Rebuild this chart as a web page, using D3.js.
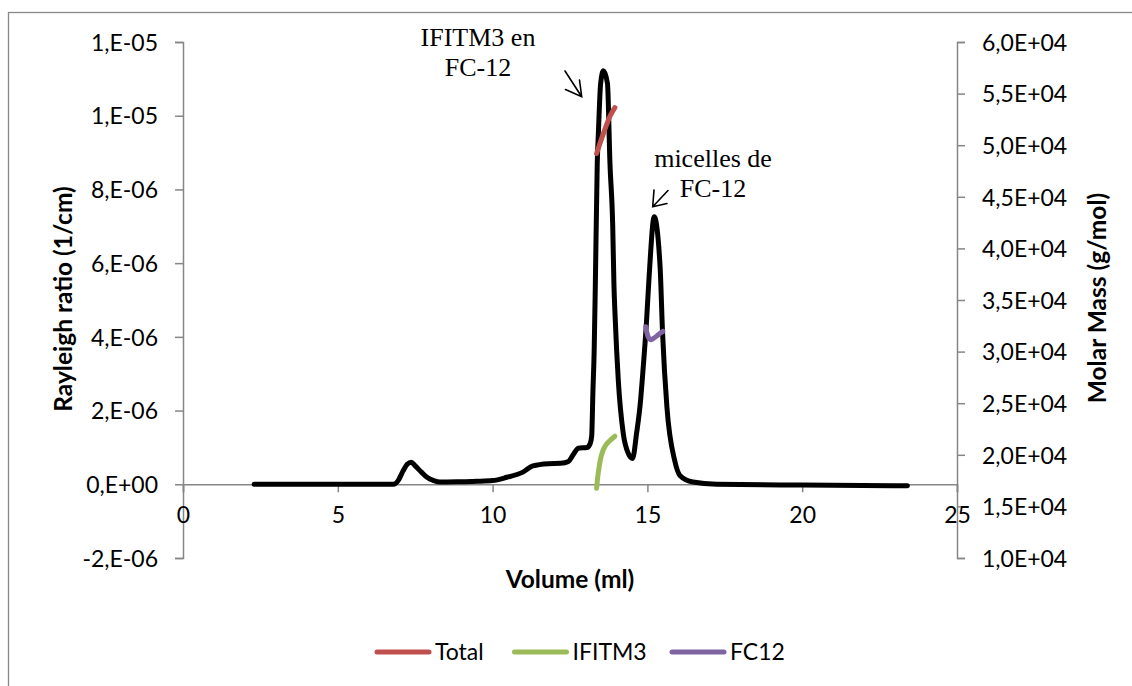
<!DOCTYPE html>
<html>
<head>
<meta charset="utf-8">
<script src="https://cdn.jsdelivr.net/npm/d3@7"></script>
<style>
  html, body { margin: 0; padding: 0; background: #fff; }
  svg { display: block; }
  text { font-family: Lato, "Open Sans", sans-serif; fill: #000; }
</style>
</head>
<body>
<svg id="chart" width="1132" height="686"></svg>
<script>
// ---------- DATA ----------
// Rayleigh ratio (1/cm) vs volume (ml)
const rayleighVolume = [2.3, 6.8, 6.95, 7.1, 7.25, 7.37, 7.5, 7.7, 7.88, 8.1, 8.3, 9.0, 9.5, 10.0, 10.46, 10.98, 11.3, 11.8, 12.2, 12.45, 12.6, 12.77, 13.05, 13.15, 13.2, 13.24, 13.28, 13.32, 13.38, 13.42, 13.49, 13.58, 13.71, 13.79, 13.88, 13.92, 13.96, 14.06, 14.22, 14.38, 14.52, 14.65, 14.78, 14.84, 14.97, 15.06, 15.22, 15.41, 15.49, 15.63, 15.88, 16.05, 16.47, 17.24, 20.0, 23.4];
const rayleighValue = [0.0, 0.0, 0.1, 0.35, 0.55, 0.6, 0.5, 0.33, 0.19, 0.1, 0.06, 0.07, 0.08, 0.1, 0.19, 0.33, 0.5, 0.56, 0.57, 0.62, 0.8, 0.98, 1.0, 1.1, 1.3, 2.5, 3.6, 5.5, 8.7, 9.6, 10.88, 11.22, 10.88, 8.72, 7.0, 5.4, 4.5, 2.82, 1.38, 0.84, 0.7, 1.38, 2.28, 2.9, 4.4, 5.7, 7.26, 5.9, 4.1, 2.1, 0.65, 0.24, 0.06, 0.0, -0.02, -0.04].map(v => v * 1e-6);

// Molar mass (g/mol) series
const totalVolume = [13.36, 13.47, 13.58, 13.69, 13.79, 13.88, 13.95];
const totalMass   = [49200, 50200, 51150, 52050, 52800, 53300, 53650];
const ifitm3Volume = [13.36, 13.39, 13.43, 13.48, 13.55, 13.65, 13.8, 13.95];
const ifitm3Mass   = [16750, 17700, 18600, 19500, 20300, 20900, 21400, 21800];
const fc12Volume = [14.95, 14.98, 15.03, 15.1, 15.18, 15.3, 15.42, 15.5];
const fc12Mass   = [32400, 31900, 31400, 31150, 31250, 31500, 31800, 31950];

const seriesNames = ["Total", "IFITM3", "FC12"];
const seriesColors = ["#C0504D", "#9BBB59", "#8064A2"];

const xTicks = [0, 5, 10, 15, 20, 25];
const leftTicks = [-2e-6, 0, 2e-6, 4e-6, 6e-6, 8e-6, 1e-5, 1.2e-5];
const leftTickLabels = ["-2,E-06", "0,E+00", "2,E-06", "4,E-06", "6,E-06", "8,E-06", "1,E-05", "1,E-05"];
const rightTicks = [10000, 15000, 20000, 25000, 30000, 35000, 40000, 45000, 50000, 55000, 60000];
const rightTickLabels = ["1,0E+04", "1,5E+04", "2,0E+04", "2,5E+04", "3,0E+04", "3,5E+04", "4,0E+04", "4,5E+04", "5,0E+04", "5,5E+04", "6,0E+04"];

// ---------- CHART ----------
const svg = d3.select("#chart");
const axisColor = "#868686";

// outer chart border
svg.append("rect").attr("x", 8.5).attr("y", 12.5).attr("width", 1140).attr("height", 700)
  .attr("fill", "none").attr("stroke", "#898989").attr("stroke-width", 1.3);

const x = d3.scaleLinear().domain([0, 25]).range([183, 957]);
const yL = d3.scaleLinear().domain([-2e-6, 1.2e-5]).range([558, 42]);
const yR = d3.scaleLinear().domain([10000, 60000]).range([558, 42]);

function styleAxis(g) {
  g.select(".domain").attr("stroke", axisColor).attr("stroke-width", 1.5);
  g.selectAll(".tick line").attr("stroke", axisColor).attr("stroke-width", 1.5);
  g.selectAll(".tick text").attr("fill", "#000").style("font-family", "Lato, sans-serif").style("font-size", "23px");
}

// left axis
const gL = svg.append("g").attr("transform", "translate(183,0)")
  .call(d3.axisLeft(yL).tickValues(leftTicks).tickSizeOuter(0).tickSize(8).tickPadding(17)
    .tickFormat((d, i) => leftTickLabels[i]));
styleAxis(gL);
gL.selectAll(".tick text").attr("dy", "0.36em");

// right axis
const gR = svg.append("g").attr("transform", "translate(957,0)")
  .call(d3.axisRight(yR).tickValues(rightTicks).tickSizeOuter(0).tickSize(8).tickPadding(17)
    .tickFormat((d, i) => rightTickLabels[i]));
styleAxis(gR);
gR.selectAll(".tick text").attr("dy", "0.36em");

// x axis at y=0
const gX = svg.append("g").attr("transform", `translate(0,${yL(0)})`)
  .call(d3.axisBottom(x).tickValues(xTicks).tickSizeOuter(0).tickSize(8).tickPadding(14)
    .tickFormat(d3.format("d")));
styleAxis(gX);

// axis titles
svg.append("text").attr("transform", "translate(62,299) rotate(-90)")
  .attr("text-anchor", "middle").attr("dominant-baseline", "central")
  .style("font-weight", "bold").style("font-size", "24.5px").text("Rayleigh ratio (1/cm)");
svg.append("text").attr("transform", "translate(1096,298) rotate(-90)")
  .attr("text-anchor", "middle").attr("dominant-baseline", "central")
  .style("font-weight", "bold").style("font-size", "24.5px").text("Molar Mass (g/mol)");
svg.append("text").attr("x", 570).attr("y", 588)
  .attr("text-anchor", "middle")
  .style("font-weight", "bold").style("font-size", "24.5px").text("Volume (ml)");

// Rayleigh curve
const rayData = rayleighVolume.map((v, i) => [v, rayleighValue[i]]);
svg.append("path").datum(rayData)
  .attr("fill", "none").attr("stroke", "#000").attr("stroke-width", 5)
  .attr("stroke-linecap", "round").attr("stroke-linejoin", "round")
  .attr("d", d3.line().x(d => x(d[0])).y(d => yL(d[1])).curve(d3.curveMonotoneX));

// molar mass series
const massSeries = [
  totalVolume.map((v, i) => [v, totalMass[i]]),
  ifitm3Volume.map((v, i) => [v, ifitm3Mass[i]]),
  fc12Volume.map((v, i) => [v, fc12Mass[i]])
];
massSeries.forEach((s, k) => {
  svg.append("path").datum(s)
    .attr("fill", "none").attr("stroke", seriesColors[k]).attr("stroke-width", 5)
    .attr("stroke-linecap", "round").attr("stroke-linejoin", "round")
    .attr("d", d3.line().x(d => x(d[0])).y(d => yR(d[1])).curve(d3.curveMonotoneX));
});

// annotations
const serif = "'Liberation Serif', 'Times New Roman', serif";
const ann = svg.append("g").style("font-family", serif).style("font-size", "26px");
ann.append("text").attr("x", 478).attr("y", 46).attr("text-anchor", "middle").style("font-family", serif).text("IFITM3 en");
ann.append("text").attr("x", 478).attr("y", 76).attr("text-anchor", "middle").style("font-family", serif).text("FC-12");
ann.append("text").attr("x", 713).attr("y", 167).attr("text-anchor", "middle").style("font-family", serif).text("micelles de");
ann.append("text").attr("x", 713).attr("y", 197).attr("text-anchor", "middle").style("font-family", serif).text("FC-12");

// arrows (open V heads)
const arrows = svg.append("g").attr("stroke", "#000").attr("stroke-width", 1.6).attr("fill", "none")
  .attr("stroke-linecap", "round");
arrows.append("path").attr("d", "M565,71 L581.7,96.7 M579.5,80 L581.7,96.7 L565.5,89.5");
arrows.append("path").attr("d", "M668,190.5 L652.7,206.7 M654,190 L652.7,206.7 L667,203.5");

// legend
const legend = svg.append("g");
const legendX = [377, 514.5, 672];
seriesNames.forEach((n, k) => {
  legend.append("line").attr("x1", legendX[k]).attr("x2", legendX[k] + 52)
    .attr("y1", 652).attr("y2", 652)
    .attr("stroke", seriesColors[k]).attr("stroke-width", 5).attr("stroke-linecap", "round");
  legend.append("text").attr("x", legendX[k] + 58).attr("y", 660)
    .style("font-size", "23px").text(n);
});
</script>
</body>
</html>
